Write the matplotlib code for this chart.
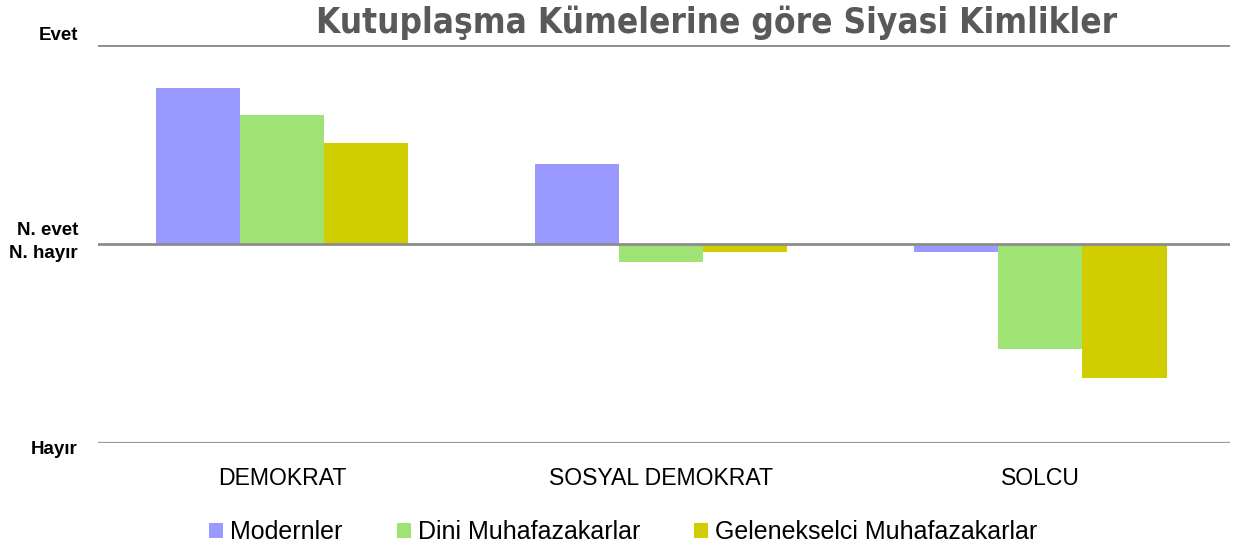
import numpy as np
import matplotlib.pyplot as plt

plt.rcParams['font.family'] = ['Liberation Sans', 'DejaVu Sans']

# Donnees (-1 = Hayir, 0 = neutre, 1 = Evet)
kategoriler = ['DEMOKRAT', 'SOSYAL DEMOKRAT', 'SOLCU']
seriler = ['Modernler', 'Dini Muhafazakarlar', 'Gelenekselci Muhafazakarlar']
modernler = [0.784, 0.402, -0.040]
dini = [0.648, -0.090, -0.528]
geleneksel = [0.508, -0.040, -0.673]
renkler = ['#9999FF', '#A0E375', '#D0CD00']
y_degerler = [1, 0, -1]
y_etiketler = ['Evet', 'N. evet\nN. hayır', 'Hayır']
y_kayma = [9, 2, -7]   # decalage vertical des etiquettes (pixels)

fig = plt.figure(figsize=(12.34, 5.51), dpi=100)
ax = fig.add_axes([98/1234, 1-443/551, 1132/1234, 398/551])

x = np.arange(len(kategoriler))
w = 0.222
for i, (vals, lab) in enumerate(zip([modernler, dini, geleneksel], seriler)):
    ax.bar(x + (i-1)*w, vals, w, color=renkler[i], label=lab, zorder=2)

ax.set_xlim(-0.485, 2.5)
ax.set_ylim(-1, 1)
ax.axhline(1, color='#8C8C8C', lw=2.0, zorder=3)
ax.axhline(0, color='#8C8C8C', lw=2.0, zorder=3)
ax.axhline(-1, color='#9A9A9A', lw=1.6, zorder=3)
for s in ax.spines.values():
    s.set_visible(False)

ax.set_yticks([])
for yv, et, dy in zip(y_degerler, y_etiketler, y_kayma):
    ax.annotate(et, xy=(0, yv), xycoords=('axes fraction', 'data'),
                xytext=(-20*0.72, dy*0.72), textcoords='offset points',
                ha='right', va='center', fontsize=13.5, fontweight='bold',
                linespacing=1.45, annotation_clip=False)

ax.set_xticks(x)
ax.set_xticklabels(kategoriler, fontsize=16.6)
ax.tick_params(axis='both', length=0)
ax.tick_params(axis='x', pad=17)

fig.text(0.581, 0.958, 'Kutuplaşma Kümelerine göre Siyasi Kimlikler',
         ha='center', va='center', fontsize=25.2, fontweight='bold',
         family='DejaVu Sans', fontstretch='condensed', color='#595959')

leg = fig.legend(loc='center', bbox_to_anchor=(0.505, 0.034), ncol=3,
                 frameon=False, fontsize=18, handlelength=0.56,
                 handleheight=0.56, handletextpad=0.28, columnspacing=2.16)

fig.savefig('out.png', dpi=100)
